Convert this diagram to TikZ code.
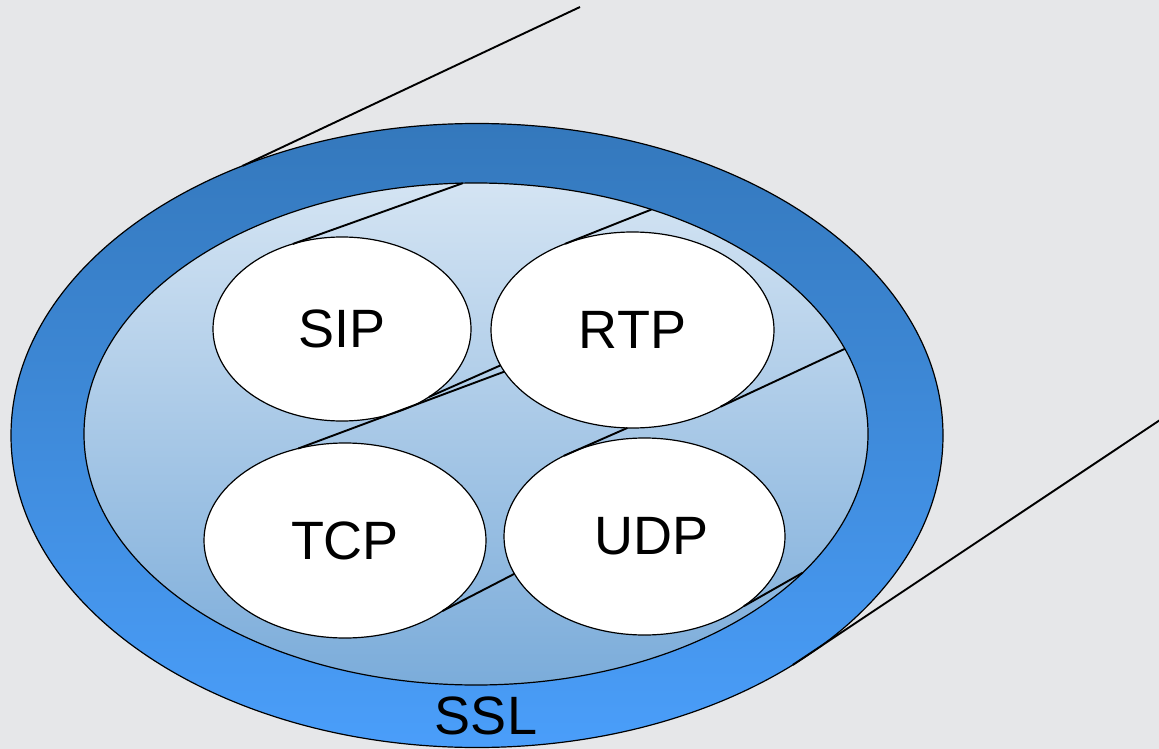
\documentclass[tikz,border=0pt]{standalone}
\usepackage{fontspec}
\setmainfont{Liberation Sans}
\usepackage{tikz}
\usetikzlibrary{shapes.geometric}
\definecolor{cbg}{HTML}{E6E7E9}
\definecolor{souttop}{HTML}{3478BC}
\definecolor{soutbot}{HTML}{4A9EFA}
\definecolor{sintop}{HTML}{D4E4F3}
\definecolor{sinbot}{HTML}{7BACDA}

\begin{document}
\begin{tikzpicture}[
    x=1pt, y=-1pt,
    bigfont/.style={font=\fontsize{54}{54}\selectfont},
    layer/.style={ellipse, draw=black, line width=1.2pt, inner sep=0pt, outer sep=0pt},
    proto/.style={layer, fill=white, bigfont},
    tangent/.style={black, line width=1.9pt},
]
% background
\fill[cbg] (0,0) rectangle (1159,749);
\useasboundingbox (0,0) rectangle (1159,749);
% SSL ring and inner layer
\node[layer, top color=souttop, bottom color=soutbot, minimum width=932pt, minimum height=624pt] (ssl) at (477,435.5) {};
\coordinate (fartop) at (580,7);
\coordinate (farbot) at (1160,420);
\draw[tangent] (ssl.131.5) -- (fartop);
\draw[tangent] (ssl.-36.1) -- (farbot);
\node[layer, top color=sintop, bottom color=sinbot, minimum width=784pt, minimum height=502pt] (core) at (476,434) {};
% protocols
\node[proto, minimum width=258pt, minimum height=184pt] (sip) at (342,329) {SIP};
\node[proto, minimum width=283pt, minimum height=196pt] (rtp) at (632.5,330) {RTP};
\node[proto, minimum width=282pt, minimum height=195pt] (tcp) at (345,540.5) {TCP};
\node[proto, minimum width=281pt, minimum height=197pt,
      label={[bigfont, xshift=7pt, inner sep=0pt]center:UDP}] (udp) at (644.5,536.5) {};
\node[bigfont] (ssltext) at (486,716) {SSL};
% tangent lines
\draw[tangent] (sip.120.4) -- (core.93.2);
\draw[tangent] (sip.-38.7) -- (rtp.-165.2);
\draw[tangent] (tcp.117.9) -- (rtp.-162.2);
\draw[tangent] (rtp.128.6) -- (core.52.6);
\draw[tangent] (rtp.-41.7) -- (core.13.2);
\draw[tangent] (udp.135) -- (rtp.-93.2);
\draw[tangent] (tcp.-36.1) -- (udp.-164.5);
\draw[tangent] (udp.-35.6) -- (core.-23.2);
\end{tikzpicture}
\end{document}
